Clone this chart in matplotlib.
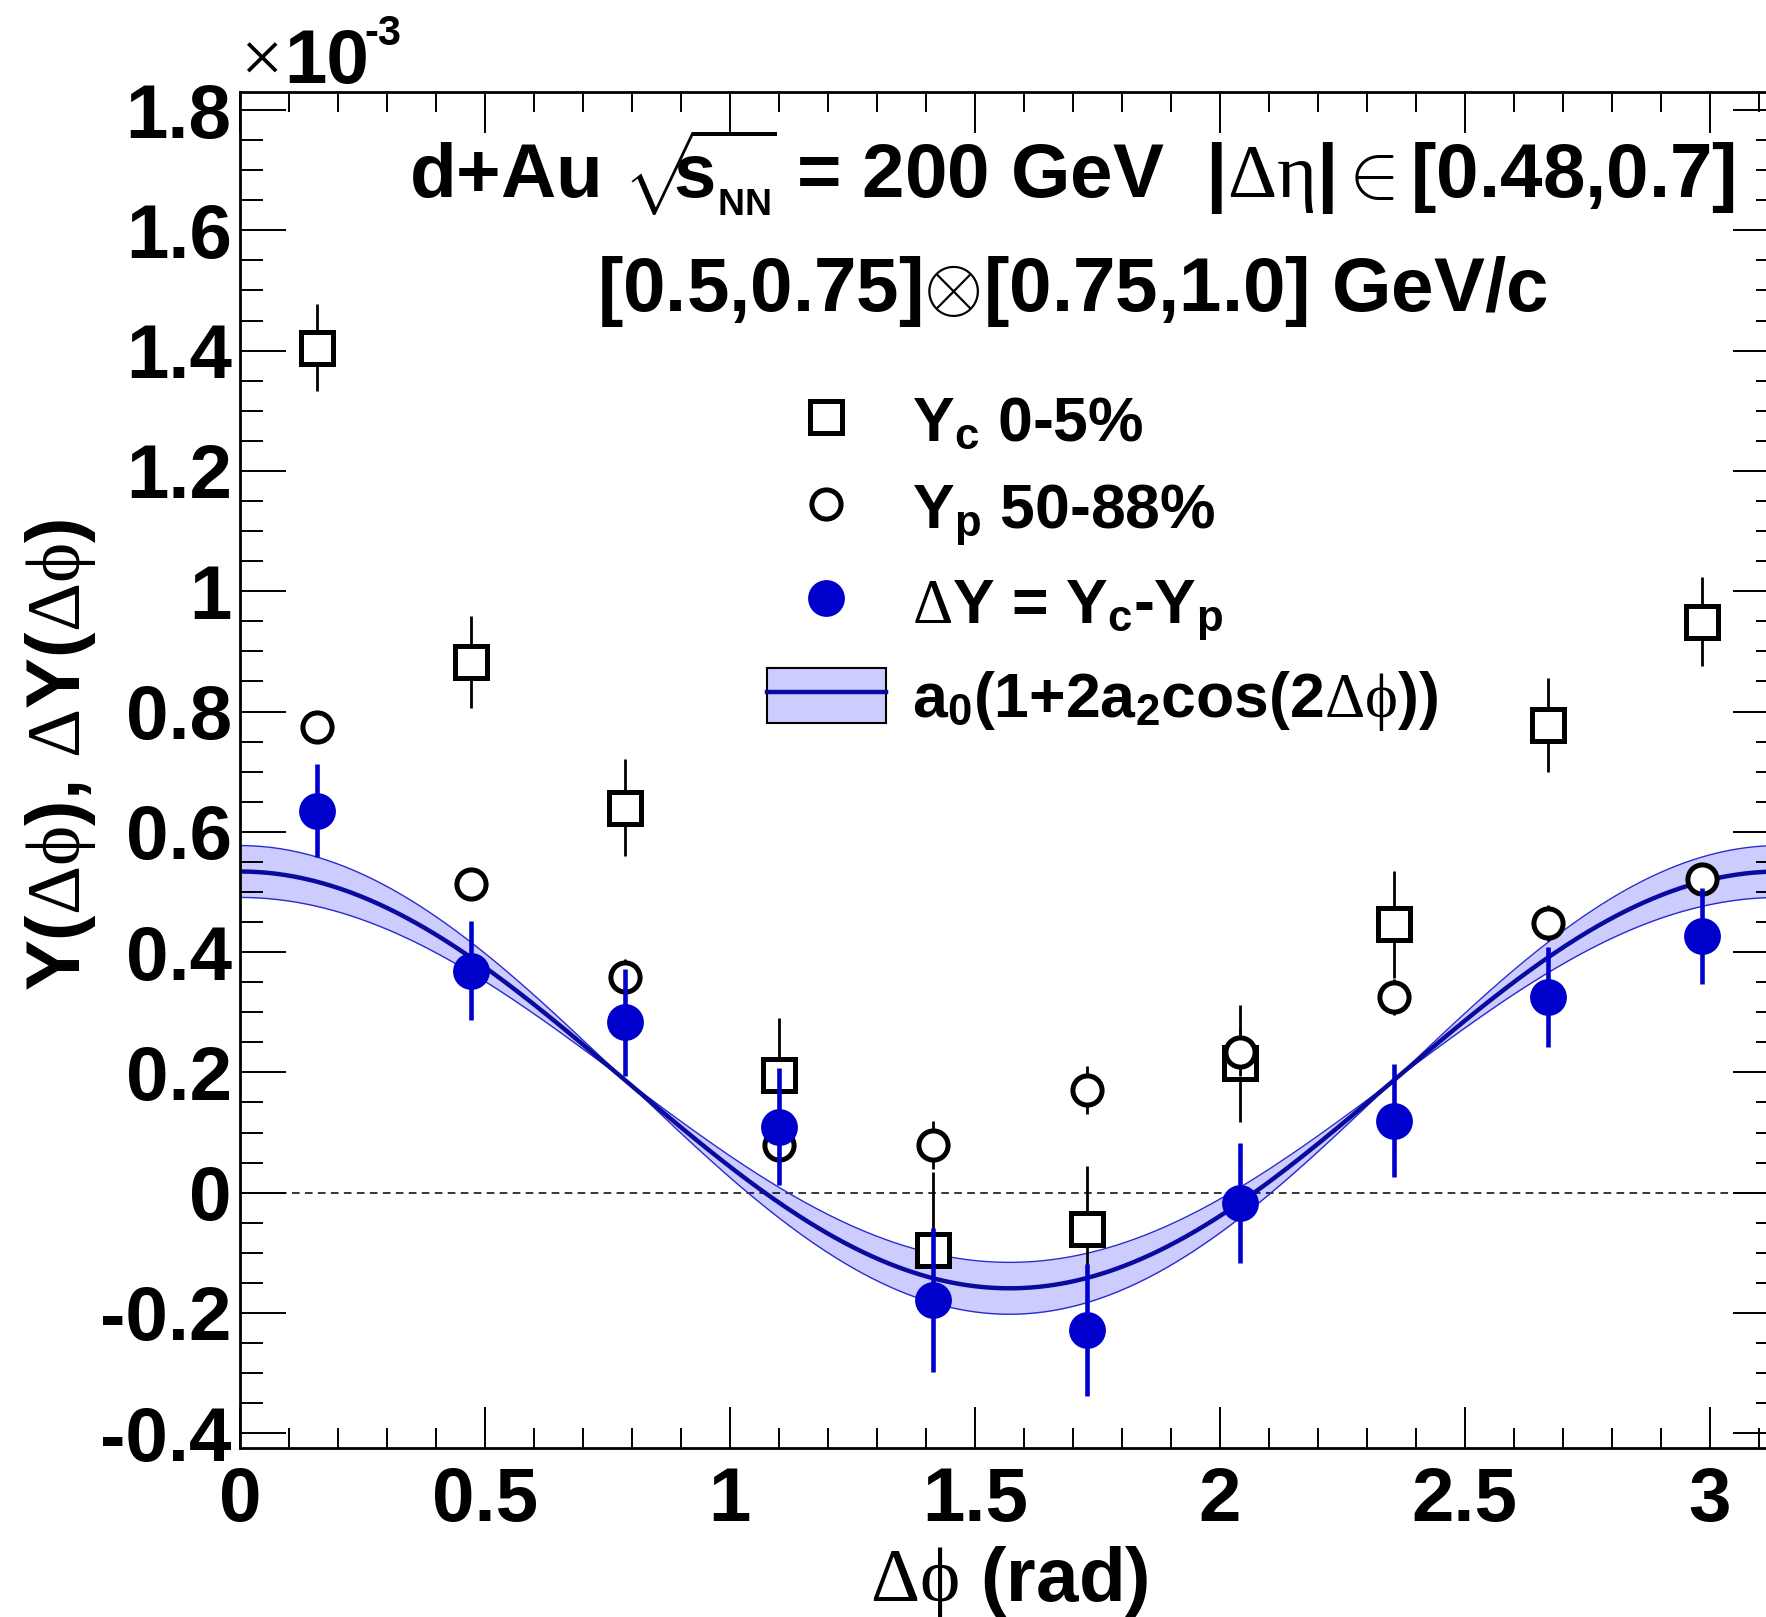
import numpy as np
import matplotlib
matplotlib.use('Agg')
import matplotlib.pyplot as plt
from matplotlib.lines import Line2D
from matplotlib.patches import Patch
from matplotlib.legend_handler import HandlerTuple
from matplotlib.ticker import MultipleLocator, FuncFormatter

plt.rcParams['font.family'] = 'Liberation Sans'
plt.rcParams['font.weight'] = 'bold'
plt.rcParams['axes.labelweight'] = 'bold'
plt.rcParams['axes.unicode_minus'] = False
plt.rcParams['mathtext.fontset'] = 'custom'
plt.rcParams['mathtext.rm'] = 'Liberation Serif:weight=normal'
plt.rcParams['mathtext.it'] = 'Liberation Serif:italic:weight=normal'
plt.rcParams['mathtext.bf'] = 'Liberation Sans:bold'
plt.rcParams['mathtext.sf'] = 'Liberation Sans:bold'

# delta-phi bin centres (rad)
dphi = np.array([0.157, 0.471, 0.785, 1.100, 1.414, 1.728, 2.042, 2.356, 2.670, 2.985])

# yields, in units of 1e-3
yc     = [1.405, 0.882, 0.640, 0.195, -0.096, -0.060, 0.215, 0.446, 0.777, 0.949]
yc_err = [0.072, 0.077, 0.081, 0.095, 0.130, 0.105, 0.097, 0.089, 0.078, 0.074]
yp     = [0.775, 0.513, 0.358, 0.080, 0.080, 0.170, 0.234, 0.326, 0.449, 0.522]
yp_err = [0.020, 0.025, 0.030, 0.030, 0.040, 0.040, 0.040, 0.030, 0.030, 0.025]
dy     = [0.635, 0.369, 0.283, 0.110, -0.178, -0.228, -0.017, 0.120, 0.326, 0.427]
dy_err = [0.077, 0.082, 0.089, 0.098, 0.120, 0.110, 0.100, 0.094, 0.083, 0.080]

# fit a0*(1+2*a2*cos(2 dphi)), a0 in 1e-3
a0 = 0.1875
a2 = 0.924
a2_err = 0.115

W, H = 1766, 1617
fig = plt.figure(figsize=(W/100, H/100), dpi=100)
ax = fig.add_axes([240/W, 1-1448/H, (1779-240)/W, (1448-92.3)/H])

xs = np.linspace(0, np.pi, 500)
fit = a0*(1 + 2*a2*np.cos(2*xs))
band_a = a0*(1 + 2*(a2+a2_err)*np.cos(2*xs))
band_b = a0*(1 + 2*(a2-a2_err)*np.cos(2*xs))

ax.fill_between(xs, band_a, band_b, color='#ccccff', lw=0, zorder=1)
ax.plot(xs, band_a, color='#2a2ad0', lw=1.0, zorder=1.5)
ax.plot(xs, band_b, color='#2a2ad0', lw=1.0, zorder=1.5)
ax.plot(xs, fit, color='#0a0a9e', lw=3.2, zorder=2)

ax.axhline(0, color='black', lw=1.1, ls=(0, (5, 3.5)), zorder=1)

ax.errorbar(dphi, yc, yerr=yc_err, fmt='s', ms=23, mfc='white', mec='black',
            mew=3.6, ecolor='black', elinewidth=2.0, capsize=0, zorder=3)
ax.errorbar(dphi, yp, yerr=yp_err, fmt='o', ms=21, mfc='white', mec='black',
            mew=3.6, ecolor='black', elinewidth=2.0, capsize=0, zorder=4)
ax.errorbar(dphi, dy, yerr=dy_err, fmt='o', ms=25, mfc='#0000cc', mec='#0000cc',
            mew=1.5, ecolor='#0000cc', elinewidth=3.3, capsize=0, zorder=5)

ax.set_xlim(0, np.pi)
ax.set_ylim(-0.4245, 1.8295)

fmt = FuncFormatter(lambda v, p: '%g' % round(v, 6) if abs(v) > 1e-9 else '0')
ax.xaxis.set_major_locator(MultipleLocator(0.5))
ax.xaxis.set_minor_locator(MultipleLocator(0.1))
ax.yaxis.set_major_locator(MultipleLocator(0.2))
ax.yaxis.set_minor_locator(MultipleLocator(0.05))
ax.xaxis.set_major_formatter(fmt)
ax.yaxis.set_major_formatter(fmt)

ax.tick_params(which='both', direction='in', top=True, right=True, width=1.4)
ax.tick_params(axis='x', which='major', length=29.5, pad=12.7, labelsize=55)
ax.tick_params(axis='x', which='minor', length=14.4)
ax.tick_params(axis='y', which='major', length=33, pad=6, labelsize=55)
ax.tick_params(axis='y', which='minor', length=16.5)
for s in ax.spines.values():
    s.set_linewidth(2.0)

ax.set_xlabel(r'$\Delta\mathrm{\phi}$ (rad)', fontsize=55, va='baseline')
ax.xaxis.set_label_coords(0.4995, -0.1129)
ax.set_ylabel(r'Y($\Delta\mathrm{\phi}$), $\Delta$Y($\Delta\mathrm{\phi}$)', fontsize=55, va='baseline')
ax.yaxis.set_label_coords(-0.104, 0.511)

# axis multiplier
fig.text(240/W, 1-83/H, '×', fontsize=54, family='Liberation Serif', fontweight='normal',
         ha='left', va='baseline')
fig.text(284/W, 1-83/H, '10', fontsize=55, ha='left', va='baseline')
fig.text(364/W, 1-45/H, '-3', fontsize=30, ha='left', va='baseline')

fig.text(1072/W, 1-198/H,
         r'd+Au $\sqrt{\!\!\!\mathsf{s}_{{}_{\mathsf{NN}}}\!}$ = 200 GeV  |$\Delta\mathrm{\eta}$|$\in$[0.48,0.7]',
         fontsize=55, ha='center', va='baseline')
fig.text(1072/W, 1-311/H, r'[0.5,0.75]$\otimes$[0.75,1.0] GeV/c',
         fontsize=55, ha='center', va='baseline')

h_c = Line2D([], [], ls='none', marker='s', ms=23, mfc='white', mec='black', mew=3.6)
h_p = Line2D([], [], ls='none', marker='o', ms=21, mfc='white', mec='black', mew=3.6)
h_d = Line2D([], [], ls='none', marker='o', ms=25, mfc='#0000cc', mec='#0000cc', mew=1.5)
h_f = (Patch(facecolor='#ccccff', edgecolor='black', lw=1.5),
       Line2D([], [], color='#0a0a9e', lw=3.2))
labels = [r'Y$_\mathsf{c}$ 0-5%', r'Y$_\mathsf{p}$ 50-88%',
          r'$\Delta$Y = Y$_\mathsf{c}$-Y$_\mathsf{p}$',
          r'a$_\mathsf{0}$(1+2a$_\mathsf{2}$cos(2$\Delta\mathrm{\phi}$))']
ax.legend([h_c, h_p, h_d, h_f], labels, handler_map={tuple: HandlerTuple(ndivide=1, pad=0)},
          loc='upper left', bbox_to_anchor=(767/W, 1-392/H), bbox_transform=fig.transFigure,
          frameon=False, fontsize=45, handlelength=1.9, handleheight=1.0,
          handletextpad=0.42, labelspacing=0.4, borderpad=0, borderaxespad=0)

fig.savefig('out.png', dpi=100)
